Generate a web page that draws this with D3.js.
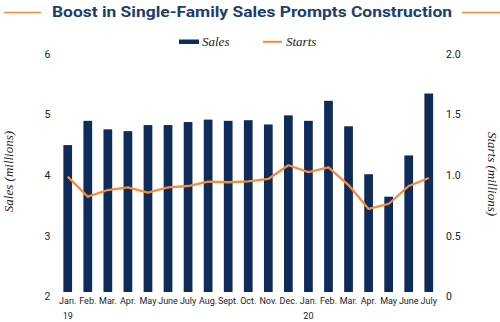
<!DOCTYPE html>
<html><head><meta charset="utf-8">
<script src="https://cdn.jsdelivr.net/npm/d3@7"></script>
<style>
html,body{margin:0;padding:0;background:#fff;}
svg{display:block;}
</style></head>
<body>
<svg id="chart" width="500" height="322"></svg>
<script>
const months = ["Jan.","Feb.","Mar.","Apr.","May","June","July","Aug.","Sept.","Oct.","Nov.","Dec.","Jan.","Feb.","Mar.","Apr.","May","June","July"];
const years = ["19","","","","","","","","","","","","20","","","","","",""];
const sales = [4.42,4.82,4.68,4.65,4.75,4.75,4.80,4.84,4.82,4.83,4.76,4.91,4.82,5.15,4.73,3.94,3.57,4.25,5.27];
const starts = [0.95,0.785,0.84,0.862,0.818,0.862,0.873,0.909,0.904,0.912,0.931,1.044,0.988,1.027,0.881,0.684,0.725,0.873,0.939];
const leftTicks = [2,3,4,5,6];
const rightTicks = [0,0.5,1.0,1.5,2.0];
const rightTickLabels = ["0","0.5","1.0","1.5","2.0"];

const navy = "#0e2b5a", orange = "#f18d3d", titleColor = "#1d3d6c";
const svg = d3.select("#chart");
const sans = "Roboto, 'Liberation Sans', sans-serif";
const serif = "'Liberation Serif', 'DejaVu Serif', serif";

const idx = d3.range(months.length);
const x = d3.scaleBand().domain(idx).range([57.7, 438.8]).paddingInner(0.565).paddingOuter(0.2825);
const yL = d3.scaleLinear().domain([2,6]).range([292, 49.2]);
const yR = d3.scaleLinear().domain([0,2]).range([292, 49.2]);

// Title
svg.append("line").attr("x1",4).attr("x2",41).attr("y1",12.5).attr("y2",12.5).attr("stroke",orange).attr("stroke-width",1.5);
svg.append("line").attr("x1",462).attr("x2",500).attr("y1",12.5).attr("y2",12.5).attr("stroke",orange).attr("stroke-width",1.5);
svg.append("text").attr("x",252).attr("y",17).attr("text-anchor","middle")
  .attr("font-family",sans).attr("font-weight",700).attr("font-size",15).attr("fill",titleColor)
  .attr("textLength",400).attr("lengthAdjust","spacingAndGlyphs")
  .text("Boost in Single-Family Sales Prompts Construction");

// Legend
svg.append("rect").attr("x",179).attr("y",39.5).attr("width",20).attr("height",4.5).attr("fill",navy);
svg.append("text").attr("x",202).attr("y",46).attr("font-family",serif).attr("font-style","italic").attr("font-size",13).attr("fill","#222").text("Sales");
svg.append("line").attr("x1",263).attr("x2",282).attr("y1",41.8).attr("y2",41.8).attr("stroke",orange).attr("stroke-width",2);
svg.append("text").attr("x",286).attr("y",46).attr("font-family",serif).attr("font-style","italic").attr("font-size",13).attr("fill","#222").text("Starts");

// Bars
svg.append("g").selectAll("rect").data(sales).join("rect")
  .attr("x",(d,i)=>x(i)).attr("width",x.bandwidth())
  .attr("y",d=>yL(d)).attr("height",d=>yL(2)-yL(d))
  .attr("fill",navy);

// Line
const line = d3.line().x((d,i)=>x(i)+x.bandwidth()/2).y(d=>yR(d));
svg.append("path").datum(starts).attr("d",line).attr("fill","none")
  .attr("stroke",orange).attr("stroke-width",2.3).attr("stroke-linejoin","round");

// Left axis
const axL = d3.axisLeft(yL).tickValues(leftTicks).tickSize(0).tickPadding(0).tickFormat(d3.format("d"));
const gL = svg.append("g").attr("transform","translate(50.5,0)").call(axL);
gL.select(".domain").remove();
gL.selectAll("text").attr("font-family",sans).attr("font-size",10.5).attr("fill","#222").attr("dy","0.75em");

// Right axis
const axR = d3.axisRight(yR).tickValues(rightTicks).tickSize(0).tickPadding(0).tickFormat((d,i)=>rightTickLabels[i]);
const gR = svg.append("g").attr("transform","translate(446,0)").call(axR);
gR.select(".domain").remove();
gR.selectAll("text").attr("font-family",sans).attr("font-size",10.5).attr("fill","#222").attr("dy","0.75em");

// Bottom axis
const axB = d3.axisBottom(x).tickSize(0).tickPadding(0).tickFormat(i=>months[i]);
const gB = svg.append("g").attr("transform","translate(0,298)").call(axB);
gB.select(".domain").remove();
gB.selectAll("text").attr("font-family",sans).attr("font-size",9).attr("fill","#222").attr("dy","0.71em");
const gY = svg.append("g").attr("transform","translate(0,313)").call(d3.axisBottom(x).tickSize(0).tickPadding(0).tickFormat(i=>years[i]));
gY.select(".domain").remove();
gY.selectAll("text").attr("font-family",sans).attr("font-size",9).attr("fill","#222").attr("dy","0.71em");

// Axis titles
svg.append("text").attr("transform","translate(13,171.5) rotate(-90)").attr("text-anchor","middle")
  .attr("font-family",serif).attr("font-style","italic").attr("font-size",13).attr("fill","#222").text("Sales (millions)");
svg.append("text").attr("transform","translate(488,174) rotate(90)").attr("text-anchor","middle")
  .attr("font-family",serif).attr("font-style","italic").attr("font-size",13).attr("fill","#222").text("Starts (millions)");
</script>
</body></html>
